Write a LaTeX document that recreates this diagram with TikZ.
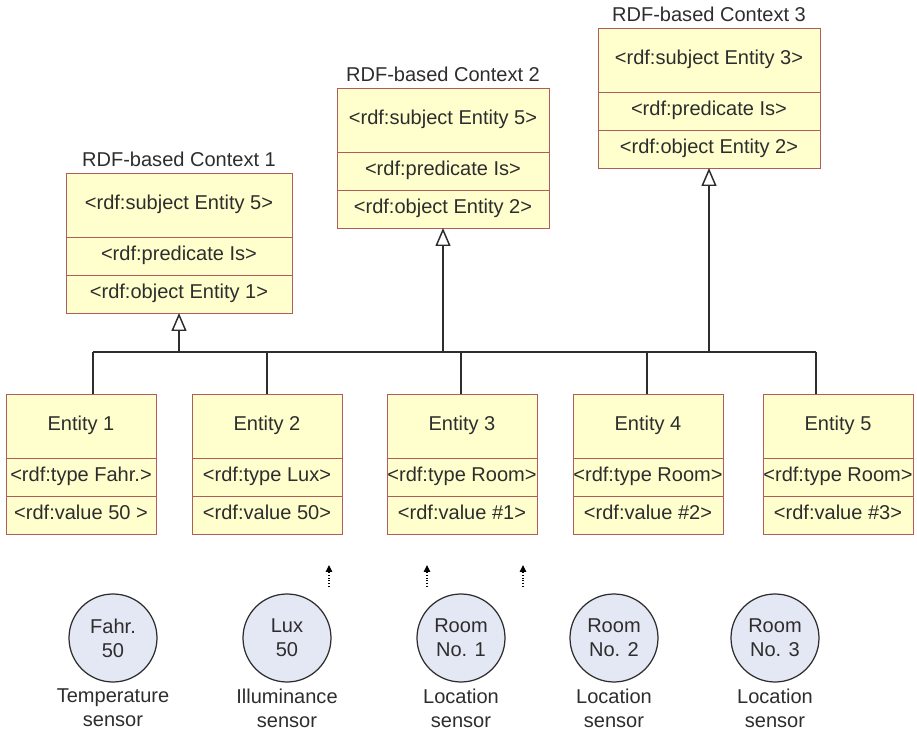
\documentclass[tikz,border=0pt]{standalone}
\usepackage{fontspec}
\setmainfont{Liberation Sans}
\usepackage{xcolor}
\usetikzlibrary{arrows.meta}
\usetikzlibrary{positioning}
\definecolor{boxfill}{RGB}{255,255,206}
\definecolor{boxline}{RGB}{176,92,92}
\definecolor{sensfill}{RGB}{228,232,244}
\definecolor{ink}{RGB}{45,45,45}

\begin{document}
\begin{tikzpicture}[x=0.2mm, y=-0.2mm, font=\fontsize{11.4}{13.7}\selectfont, text=ink,
    cell/.style={draw=boxline, fill=boxfill, line width=0.5pt, outer sep=0pt, inner sep=0pt,
        text height=0.75em, text depth=0.25em},
    head/.style={cell, minimum height=1.28cm},
    row/.style={cell, minimum height=0.76cm},
    ent/.style={minimum width=3cm},
    title/.style={inner sep=0.03cm, text height=0.75em, text depth=0.25em},
    link/.style={draw=ink, line width=0.85pt},
    gen/.style={link, -{Triangle[open, width=0.3cm, length=0.36cm]}},
    ping/.style={draw=black, densely dotted, line width=0.6pt, -{Triangle[length=0.14cm, width=0.13cm]}},
    sensor/.style={circle, draw=ink, fill=sensfill, line width=0.7pt, minimum size=1.76cm,
        inner sep=0pt, align=center},
    kind/.style={align=center, inner sep=0pt}]
\useasboundingbox (0,0) rectangle (917,733);

% contexts
\node[head, minimum width=4.52cm] (c1s) at (179,205) {<rdf:subject Entity 5>};
\node[row, minimum width=4.52cm, below=0pt of c1s] (c1p) {<rdf:predicate Is>};
\node[row, minimum width=4.52cm, below=0pt of c1p] (c1o) {<rdf:object Entity 1>};
\node[title, above=0pt of c1s] (c1t) {RDF-based Context 1};

\node[head, minimum width=4.24cm] (c2s) at (443,120) {<rdf:subject Entity 5>};
\node[row, minimum width=4.24cm, below=0pt of c2s] (c2p) {<rdf:predicate Is>};
\node[row, minimum width=4.24cm, below=0pt of c2p] (c2o) {<rdf:object Entity 2>};
\node[title, above=0pt of c2s] (c2t) {RDF-based Context 2};

\node[head, minimum width=4.44cm] (c3s) at (709,60) {<rdf:subject Entity 3>};
\node[row, minimum width=4.44cm, below=0pt of c3s] (c3p) {<rdf:predicate Is>};
\node[row, minimum width=4.44cm, below=0pt of c3p] (c3o) {<rdf:object Entity 2>};
\node[title, above=0pt of c3s] (c3t) {RDF-based Context 3};

% entities
\node[head, ent] (e1) at (81,426) {Entity 1};
\node[row, ent, below=0pt of e1] (e1a) {<rdf:type Fahr.>};
\node[row, ent, below=0pt of e1a] (e1b) {<rdf:value 50 >};

\node[head, ent] (e2) at (267,426) {Entity 2};
\node[row, ent, below=0pt of e2] (e2a) {<rdf:type Lux>};
\node[row, ent, below=0pt of e2a] (e2b) {<rdf:value 50>};

\node[head, ent] (e3) at (462,426) {Entity 3};
\node[row, ent, below=0pt of e3] (e3a) {<rdf:type Room>};
\node[row, ent, below=0pt of e3a] (e3b) {<rdf:value \#1>};

\node[head, ent] (e4) at (648,426) {Entity 4};
\node[row, ent, below=0pt of e4] (e4a) {<rdf:type Room>};
\node[row, ent, below=0pt of e4a] (e4b) {<rdf:value \#2>};

\node[head, ent] (e5) at (838,426) {Entity 5};
\node[row, ent, below=0pt of e5] (e5a) {<rdf:type Room>};
\node[row, ent, below=0pt of e5a] (e5b) {<rdf:value \#3>};

% bus between entities and contexts
\coordinate (bus) at (0,352);
\coordinate (j1) at (93,352);
\coordinate (j2) at (267,352);
\coordinate (j3) at (461,352);
\coordinate (j4) at (647,352);
\coordinate (j5) at (816,352);
\draw[link] (j1) -- (j5);
\foreach \i in {1,...,5}
    \draw[link] (j\i) -- (j\i |- e\i.north);
\draw[gen] (bus -| c1o.south) -- (c1o.south);
\draw[gen] (bus -| c2o.south) -- (c2o.south);
\draw[gen] (bus -| c3o.south) -- (c3o.south);

% sensors
\node[sensor] (s1) at (113,638) {Fahr.\\50};
\node[sensor] (s2) at (287,638) {Lux\\50};
\node[sensor] (s3) at (461,638) {Room\\No. 1};
\node[sensor] (s4) at (614,638) {Room\\No. 2};
\node[sensor] (s5) at (775,638) {Room\\No. 3};
\node[kind, below=0.12cm of s1] (k1) {Temperature\\sensor};
\node[kind, below=0.12cm of s2] (k2) {Illuminance\\sensor};
\node[kind, below=0.12cm of s3] (k3) {Location\\sensor};
\node[kind, below=0.12cm of s4] (k4) {Location\\sensor};
\node[kind, below=0.12cm of s5] (k5) {Location\\sensor};

% small upward pointers
\coordinate (p1) at (329,587); \coordinate (q1) at (329,565);
\coordinate (p2) at (427,587); \coordinate (q2) at (427,565);
\coordinate (p3) at (523,587); \coordinate (q3) at (523,565);
\draw[ping] (p1) -- (q1);
\draw[ping] (p2) -- (q2);
\draw[ping] (p3) -- (q3);
\end{tikzpicture}
\end{document}
